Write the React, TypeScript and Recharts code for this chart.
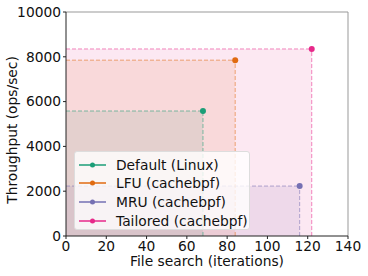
import React from 'react';
import { ComposedChart, Scatter, XAxis, YAxis, ReferenceArea, ReferenceLine } from 'recharts';

const seriesNames = ['Default (Linux)', 'LFU (cachebpf)', 'MRU (cachebpf)', 'Tailored (cachebpf)'];
const iterations = [68, 84, 116, 122];
const throughput = [5580, 7850, 2230, 8350];
const colors = ['#1b9e77', '#e06a10', '#7570b3', '#e7298a'];
const xTicks = [0, 20, 40, 60, 80, 100, 120, 140];
const yTicks = [0, 2000, 4000, 6000, 8000, 10000];

const FONT = 'DejaVu Sans, sans-serif';
const FS = 13.8;

export default function App() {
  const W = 368, H = 276;
  const L = 66, R = 348, T = 12, B = 236;
  return (
    <div style={{ position: 'absolute', left: 0, top: 0, width: W, height: H, background: '#fff', fontFamily: FONT }}>
      <ComposedChart width={W} height={H} margin={{ top: T, right: W - R, bottom: 0, left: 0 }}>
        <XAxis
          type="number"
          dataKey="x"
          domain={[0, 140]}
          ticks={xTicks}
          height={H - B}
          axisLine={{ stroke: '#222', strokeWidth: 1 }}
          tickLine={{ stroke: '#222' }}
          tickSize={3}
          tick={{ fill: '#111', fontSize: FS, fontFamily: FONT }}
          label={(p: any) => (
            <text x={(L + R) / 2} y={266} textAnchor="middle" fill="#111" fontSize={FS} fontFamily={FONT}>
              File search (iterations)
            </text>
          )}
          allowDataOverflow
        />
        <YAxis
          type="number"
          dataKey="y"
          domain={[0, 10000]}
          ticks={yTicks}
          width={L}
          axisLine={{ stroke: '#222', strokeWidth: 1 }}
          tickLine={{ stroke: '#222' }}
          tickSize={3}
          tick={{ fill: '#111', fontSize: FS, fontFamily: FONT }}
          label={(p: any) => (
            <text x={17} y={(T + B) / 2 + 6} transform={`rotate(-90 17 ${(T + B) / 2 + 6})`} textAnchor="middle" fill="#111" fontSize={FS} fontFamily={FONT}>
              Throughput (ops/sec)
            </text>
          )}
          allowDataOverflow
        />
        {seriesNames.map((n, i) => (
          <ReferenceArea key={'a' + i} x1={0} x2={iterations[i]} y1={0} y2={throughput[i]} fill={colors[i]} fillOpacity={0.11} stroke="none" ifOverflow="visible" />
        ))}
        {seriesNames.map((n, i) => (
          <ReferenceLine key={'h' + i} segment={[{ x: 0, y: throughput[i] }, { x: iterations[i], y: throughput[i] }]} stroke={colors[i]} strokeOpacity={0.55} strokeDasharray="4 2" strokeWidth={1} />
        ))}
        {seriesNames.map((n, i) => (
          <ReferenceLine key={'v' + i} segment={[{ x: iterations[i], y: 0 }, { x: iterations[i], y: throughput[i] }]} stroke={colors[i]} strokeOpacity={0.55} strokeDasharray="4 2" strokeWidth={1} />
        ))}
        <ReferenceLine y={10000} stroke="#999" strokeWidth={1} />
        <ReferenceLine x={140} stroke="#999" strokeWidth={1} />
        {seriesNames.map((n, i) => (
          <Scatter
            key={'s' + i}
            name={n}
            data={[{ x: iterations[i], y: throughput[i] }]}
            fill={colors[i]}
            isAnimationActive={false}
            shape={(p: any) => <circle cx={p.cx} cy={p.cy} r={3} fill={colors[i]} />}
          />
        ))}
      </ComposedChart>
      <div
        style={{
          position: 'absolute',
          left: 74,
          top: 151,
          width: 176,
          height: 79,
          background: 'rgba(255,255,255,0.8)',
          border: '1px solid #ddd',
          borderRadius: 3,
          boxSizing: 'border-box',
        }}
      >
        {seriesNames.map((n, i) => (
          <div key={n} style={{ position: 'absolute', left: 4, top: 3.5 + i * 18.8, height: 18, display: 'flex', alignItems: 'center' }}>
            <svg width={28} height={10} style={{ marginRight: 9 }}>
              <line x1={0} y1={5} x2={27} y2={5} stroke={colors[i]} strokeWidth={1.5} />
              <circle cx={13.5} cy={5} r={2.5} fill={colors[i]} />
            </svg>
            <span style={{ fontSize: FS, color: '#111', fontFamily: FONT, whiteSpace: 'nowrap' }}>{n}</span>
          </div>
        ))}
      </div>
    </div>
  );
}
